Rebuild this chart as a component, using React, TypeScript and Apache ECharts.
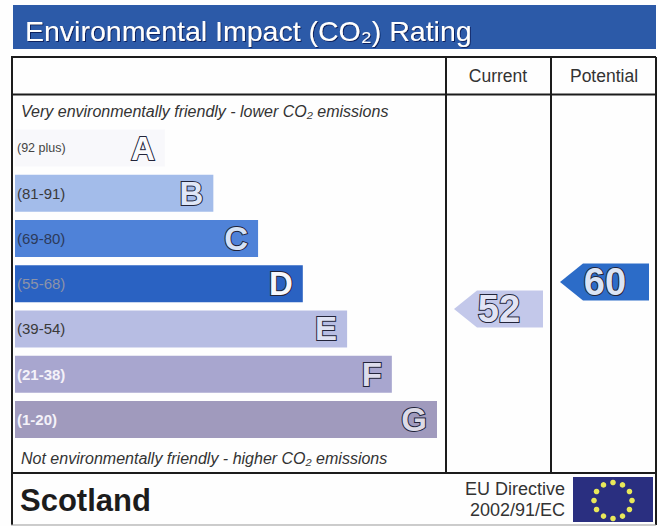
import React, { useEffect, useRef } from "react";
import * as echarts from "echarts";

const titleText = "Environmental Impact (CO₂) Rating";
const bandRanges = ["(92 plus)", "(81-91)", "(69-80)", "(55-68)", "(39-54)", "(21-38)", "(1-20)"];
const bandLetters = ["A", "B", "C", "D", "E", "F", "G"];
const bandLengths = [35.5, 47, 57.6, 68.2, 78.7, 89.3, 100];
const bandColors = ["#f8f8fb", "#a3bcea", "#4f82d8", "#2a62c2", "#b7bde3", "#a8a6cf", "#a09abd"];
const letterFills = ["#fbfbfd", "#dfe7f7", "#d6e2f5", "#f6f7fc", "#dfe2f3", "#dddcec", "#dcdae6"];
const rangeColors = ["#444444", "#3a3a3a", "#2c3a5a", "#8d93a8", "#3a3a3a", "#f4f2f9", "#f4f2f9"];
const ratingColumns = ["Current", "Potential"];
const ratingValues = [52, 60];
const ratingColors = ["#c3c8ea", "#2c6cc8"];
const ratingTextFills = ["#e2e4f5", "#dbe4f4"];
const topNote = "Very environmentally friendly - lower CO₂ emissions";
const bottomNote = "Not environmentally friendly - higher CO₂ emissions";
const regionName = "Scotland";
const directiveLines = ["EU Directive", "2002/91/EC"];
const flagStars = [0, 1, 2, 3, 4, 5, 6, 7, 8, 9, 10, 11];

const FONT = "Liberation Sans";
const LINE = "#1c1c1c";

function frameLine(x1: number, y1: number, x2: number, y2: number) {
  return { type: "line", silent: true, shape: { x1, y1, x2, y2 }, style: { stroke: LINE, lineWidth: 2 } };
}

function renderArrow(params: any, api: any) {
  const idx = api.value(0);
  const [cx, cy] = api.coord([idx, api.value(1)]);
  const left = cx - 44;
  const neck = cx - 21;
  const right = cx + 45;
  const half = 18.5;
  return {
    type: "group",
    children: [
      {
        type: "polygon",
        shape: {
          points: [
            [left, cy],
            [neck, cy - half],
            [right, cy - half],
            [right, cy + half],
            [neck, cy + half],
          ],
        },
        style: { fill: ratingColors[params.dataIndex] },
      },
      {
        type: "text",
        style: {
          text: String(ratingValues[params.dataIndex]),
          x: cx + 1,
          y: cy,
          align: "center",
          verticalAlign: "middle",
          fontFamily: FONT,
          fontWeight: "bold",
          fontSize: 38,
          fill: ratingTextFills[params.dataIndex],
          stroke: "#22243a",
          lineWidth: 2,
        },
      },
    ],
  };
}

export default function App() {
  const ref = useRef<HTMLDivElement>(null);
  useEffect(() => {
    const chart = echarts.init(ref.current!, undefined, { renderer: "svg" });
    const option: any = {
      animation: false,
      backgroundColor: "#fefefe",
      title: {
        text: titleText,
        left: 20,
        top: 11,
        textStyle: {
          fontFamily: FONT,
          fontSize: 28.5,
          fontWeight: "normal",
          color: "#ffffff",
          textShadowColor: "#0c2460",
          textShadowBlur: 1,
          textShadowOffsetX: 1,
          textShadowOffsetY: 1,
        },
      },
      grid: [
        { left: 15, top: 125.5, width: 422, height: 316.5 },
        { left: 445, top: 147, width: 212, height: 337.5 },
      ],
      xAxis: [
        { type: "value", gridIndex: 0, min: 0, max: 100, show: false },
        {
          type: "category",
          gridIndex: 1,
          position: "top",
          data: ratingColumns,
          axisLine: { show: false },
          axisTick: { show: false },
          axisLabel: {
            margin: 62,
            fontFamily: FONT,
            fontSize: 17.5,
            color: "#333333",
          },
        },
      ],
      yAxis: [
        {
          type: "category",
          gridIndex: 0,
          inverse: true,
          data: bandRanges.map((value, i) => ({
            value,
            textStyle: {
              color: rangeColors[i],
              fontSize: i === 0 ? 12.5 : 15,
              fontWeight: i >= 5 ? "bold" : "normal",
            },
          })),
          axisLine: { show: false },
          axisTick: { show: false },
          z: 5,
          axisLabel: { inside: true, margin: 2, fontFamily: FONT },
        },
        { type: "value", gridIndex: 1, min: 0, max: 100, show: false },
      ],
      series: [
        {
          type: "bar",
          xAxisIndex: 0,
          yAxisIndex: 0,
          barWidth: 37,
          data: bandLengths.map((value, i) => ({
            value,
            itemStyle: { color: bandColors[i] },
            label: { color: letterFills[i] },
          })),
          label: {
            show: true,
            position: "insideRight",
            distance: 10,
            fontFamily: FONT,
            fontWeight: "bold",
            fontSize: 33,
            textBorderColor: "#22243a",
            textBorderWidth: 2,
            formatter: (p: any) => bandLetters[p.dataIndex],
          },
        },
        {
          type: "custom",
          xAxisIndex: 1,
          yAxisIndex: 1,
          data: ratingValues.map((v, i) => [i, v]),
          renderItem: renderArrow,
          encode: { x: 0, y: 1 },
        },
      ],
      graphic: [
        { type: "rect", z: -1, silent: true, shape: { x: 13, y: 5, width: 643, height: 44 }, style: { fill: "#2c5aa8" } },
        frameLine(11, 57, 656, 57),
        frameLine(11, 94.5, 656, 94.5),
        frameLine(11, 473, 656, 473),
        frameLine(12, 57, 12, 525),
        frameLine(656, 57, 656, 525),
        frameLine(446, 57, 446, 473),
        frameLine(551, 57, 551, 473),
        { type: "line", silent: true, shape: { x1: 11, y1: 525, x2: 656, y2: 525 }, style: { stroke: "#999999", lineWidth: 1 } },
        { type: "text", x: 21, y: 103, silent: true, style: { text: topNote, fontFamily: FONT, fontStyle: "italic", fontSize: 16, fill: "#333333" } },
        { type: "text", x: 21, y: 450, silent: true, style: { text: bottomNote, fontFamily: FONT, fontStyle: "italic", fontSize: 16, fill: "#333333" } },
        { type: "text", x: 20, y: 485, silent: true, style: { text: regionName, fontFamily: FONT, fontWeight: "bold", fontSize: 31, fill: "#1c1c1c" } },
        { type: "text", x: 565, y: 480, silent: true, style: { text: directiveLines[0], align: "right", fontFamily: FONT, fontSize: 18, fill: "#333333" } },
        { type: "text", x: 565, y: 501, silent: true, style: { text: directiveLines[1], align: "right", fontFamily: FONT, fontSize: 18, fill: "#333333" } },
        { type: "rect", silent: true, shape: { x: 573, y: 477, width: 80, height: 45 }, style: { fill: "#2a2f80" } },
        ...flagStars.map((i) => ({
          type: "circle",
          silent: true,
          shape: {
            cx: 613 + 19 * Math.sin((i * Math.PI) / 6),
            cy: 500.5 - 18 * Math.cos((i * Math.PI) / 6),
            r: 2.8,
          },
          style: { fill: "#e8e85a" },
        })),
      ],
    };
    chart.setOption(option);
    return () => chart.dispose();
  }, []);
  return <div ref={ref} style={{ position: "fixed", left: 0, top: 0, width: 658, height: 526 }} />;
}
